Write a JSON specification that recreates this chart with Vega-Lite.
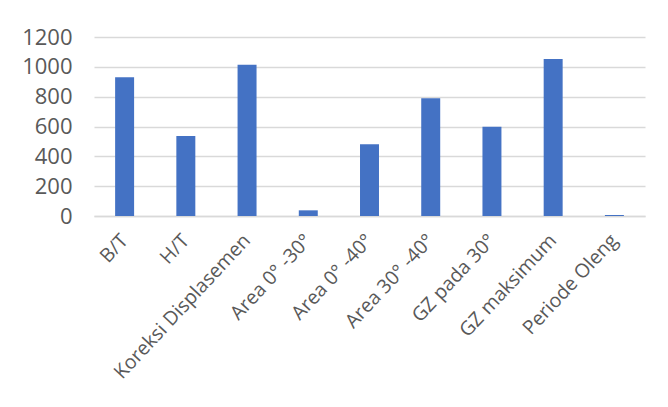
{
  "$schema": "https://vega.github.io/schema/vega-lite/v6.json",
  "width": 551,
  "height": 179,
  "autosize": {"type": "none"},
  "padding": {"left": 94, "top": 37, "right": 23, "bottom": 191},
  "background": "white",
  "data": {
    "values": [
      {"kriteria": "B/T", "nilai": 931},
      {"kriteria": "H/T", "nilai": 537},
      {"kriteria": "Koreksi Displasemen", "nilai": 1014},
      {"kriteria": "Area 0° -30°", "nilai": 38},
      {"kriteria": "Area 0° -40°", "nilai": 481},
      {"kriteria": "Area 30° -40°", "nilai": 790},
      {"kriteria": "GZ pada 30°", "nilai": 598},
      {"kriteria": "GZ maksimum", "nilai": 1052},
      {"kriteria": "Periode Oleng", "nilai": 6}
    ]
  },
  "mark": {"type": "bar", "color": "#4472C4"},
  "encoding": {
    "x": {
      "field": "kriteria",
      "type": "nominal",
      "sort": null,
      "scale": {"paddingInner": 0.69, "paddingOuter": 0.345},
      "axis": {
        "title": null,
        "labelAngle": -47,
        "labelFont": "Open Sans",
        "labelFontSize": 19.5,
        "labelColor": "#595959",
        "labelPadding": 21,
        "labelLimit": 400,
        "labelOverlap": false,
        "ticks": false,
        "domainColor": "#d9d9d9",
        "domainWidth": 1.5
      }
    },
    "y": {
      "field": "nilai",
      "type": "quantitative",
      "scale": {"domain": [0, 1200]},
      "axis": {
        "title": null,
        "format": "d",
        "values": [0, 200, 400, 600, 800, 1000, 1200],
        "labelFont": "Open Sans",
        "labelFontSize": 22,
        "labelColor": "#595959",
        "labelPadding": 22,
        "ticks": false,
        "domain": false,
        "gridColor": "#d9d9d9",
        "gridWidth": 1.5
      }
    }
  },
  "config": {"view": {"stroke": null}}
}
